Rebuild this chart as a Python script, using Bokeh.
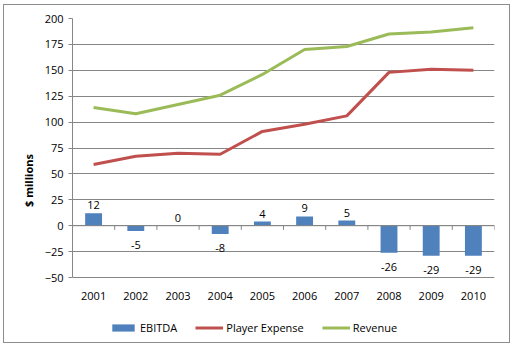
from bokeh.plotting import figure
from bokeh.models import FixedTicker, Legend, LegendItem, ColumnDataSource, Span
from bokeh.embed import file_html
from bokeh.resources import INLINE
from bokeh.core.properties import value

years = ["2001", "2002", "2003", "2004", "2005", "2006", "2007", "2008", "2009", "2010"]
ebitda = [12, -5, 0, -8, 4, 9, 5, -26, -29, -29]
player_expense = [59, 67, 70, 69, 91, 98, 106, 148, 151, 150]
revenue = [114, 108, 117, 126, 146, 170, 173, 185, 187, 191]
y_ticks = [-50, -25, 0, 25, 50, 75, 100, 125, 150, 175, 200]

FONT = "Open Sans"
GRID = "#868686"

# layout (pixels)
PLOT_H = 259      # height of the value area
EXTRA_H = 65      # room below for year labels and legend
y_lo, y_hi = y_ticks[0], y_ticks[-1]
y_start = y_lo - (y_hi - y_lo) * EXTRA_H / PLOT_H

xs = list(range(1, len(years) + 1))
src = ColumnDataSource(dict(x=xs, year=years, ebitda=ebitda, pe=player_expense, rev=revenue,
                            base=[y_lo] * len(xs)))
pos = ColumnDataSource(dict(x=[x for x, v in zip(xs, ebitda) if v >= 0],
                            y=[v for v in ebitda if v >= 0],
                            t=[str(v) for v in ebitda if v >= 0]))
neg = ColumnDataSource(dict(x=[x for x, v in zip(xs, ebitda) if v < 0],
                            y=[v for v in ebitda if v < 0],
                            t=[str(v) for v in ebitda if v < 0]))

p = figure(frame_width=422, frame_height=PLOT_H + EXTRA_H,
           x_range=(0.5, len(years) + 0.5), y_range=(y_start, y_hi),
           output_backend="svg", toolbar_location=None,
           min_border_left=68, min_border_right=15, min_border_top=13, min_border_bottom=0)
p.styles = {"border": "1px solid #8c8c8c", "margin-left": "3px", "margin-top": "4px"}
p.outline_line_color = None
p.background_fill_color = "white"
p.border_fill_color = "white"
p.xaxis.visible = False

# grid
p.xgrid.visible = False
p.ygrid.ticker = FixedTicker(ticks=y_ticks)
p.ygrid.grid_line_color = GRID
p.ygrid.grid_line_width = 1

# y axis
p.yaxis.ticker = FixedTicker(ticks=y_ticks)
p.yaxis.bounds = (y_lo, y_hi)
p.yaxis.axis_line_color = GRID
p.yaxis.major_tick_line_color = GRID
p.yaxis.major_tick_out = 4
p.yaxis.major_tick_in = 0
p.yaxis.minor_tick_line_color = None
p.yaxis.major_label_standoff = 5
p.yaxis.major_label_text_font = FONT
p.yaxis.major_label_text_font_size = "11px"
p.yaxis.major_label_text_color = "black"
p.yaxis.axis_label = "$ millions"
p.yaxis.axis_label_text_font = FONT
p.yaxis.axis_label_text_font_size = "11px"
p.yaxis.axis_label_text_font_style = "bold"
p.yaxis.axis_label_text_color = "black"
p.yaxis.axis_label_standoff = 6

# year labels under the value area
p.text(x="x", y="base", text="year", source=src, text_align="center", text_baseline="middle",
       y_offset=18, text_font=value(FONT), text_font_size="11px", text_color="black")

# zero axis line with category ticks
p.add_layout(Span(location=0, dimension="width", line_color=GRID, line_width=1))
bounds = [x - 0.5 for x in xs] + [xs[-1] + 0.5]
p.segment(x0=bounds, x1=bounds, y0=[0] * len(bounds), y1=[-4] * len(bounds),
          line_color=GRID, line_width=1)

bars = p.vbar(x="x", top="ebitda", bottom=0, width=0.4, source=src,
              fill_color="#4F81BD", line_color=None)
l_pe = p.line(x="x", y="pe", source=src, line_color="#C0504D", line_width=3)
l_rev = p.line(x="x", y="rev", source=src, line_color="#9BBB59", line_width=3)

p.text(x="x", y="y", text="t", source=pos, text_align="center", text_baseline="bottom",
       y_offset=-4, text_font=value(FONT), text_font_size="11px", text_color="black")
p.text(x="x", y="y", text="t", source=neg, text_align="center", text_baseline="top",
       y_offset=10, text_font=value(FONT), text_font_size="11px", text_color="black")

legend = Legend(items=[LegendItem(label="EBITDA", renderers=[bars]),
                       LegendItem(label="Player Expense", renderers=[l_pe]),
                       LegendItem(label="Revenue", renderers=[l_rev])],
                orientation="horizontal", location=(37, 7),
                glyph_width=28, glyph_height=9, label_height=14, label_standoff=3, spacing=18,
                padding=4, margin=0, border_line_color=None, background_fill_alpha=0,
                label_text_font=FONT, label_text_font_size="11px", label_text_color="black")
p.add_layout(legend, "center")

open("out.html", "w").write(file_html(p, INLINE))
